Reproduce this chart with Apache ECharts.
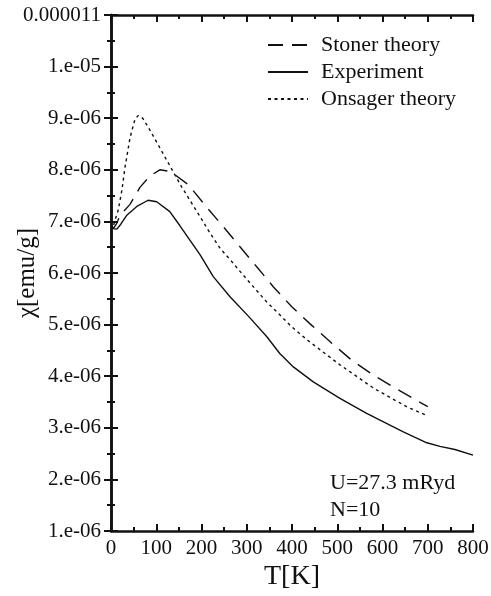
<!DOCTYPE html>
<html>
<head>
<meta charset="utf-8">
<script src="https://cdn.jsdelivr.net/npm/echarts@6/dist/echarts.min.js"></script>
<style>
html,body{margin:0;padding:0;background:#fff;}
#chart{width:491px;height:596px;}
</style>
</head>
<body>
<div id="chart"></div>
<script>
var chart = echarts.init(document.getElementById('chart'));

// data (T in K, chi in emu/g)
var expT   = [0, 5, 13, 22, 35, 57, 82, 101, 130, 152, 197, 226, 263, 305, 344, 373, 403, 447, 506, 565, 646, 698, 727, 760, 800];
var expChi = [6.88e-6, 6.86e-6, 6.85e-6, 6.95e-6, 7.12e-6, 7.29e-6, 7.41e-6, 7.38e-6, 7.19e-6, 6.92e-6, 6.35e-6, 5.93e-6, 5.54e-6, 5.15e-6, 4.77e-6, 4.44e-6, 4.18e-6, 3.89e-6, 3.57e-6, 3.28e-6, 2.92e-6, 2.71e-6, 2.64e-6, 2.58e-6, 2.47e-6];

var stonerT   = [0, 6, 12, 20, 42, 64, 86, 108, 130, 145, 171, 211, 248, 285, 322, 359, 399, 443, 488, 532, 580, 628, 679, 700];
var stonerChi = [6.92e-6, 6.87e-6, 6.95e-6, 7.12e-6, 7.33e-6, 7.66e-6, 7.88e-6, 8.00e-6, 7.97e-6, 7.88e-6, 7.71e-6, 7.28e-6, 6.90e-6, 6.51e-6, 6.12e-6, 5.73e-6, 5.35e-6, 4.99e-6, 4.64e-6, 4.31e-6, 4.02e-6, 3.77e-6, 3.51e-6, 3.41e-6];

var onsT   = [0, 4, 8, 16, 24, 31, 42, 53, 60, 70, 86, 123, 156, 197, 219, 241, 267, 292, 318, 344, 373, 399, 434, 506, 580, 653, 700];
var onsChi = [6.90e-6, 6.86e-6, 7.00e-6, 7.22e-6, 7.60e-6, 8.05e-6, 8.62e-6, 8.98e-6, 9.05e-6, 9.00e-6, 8.77e-6, 8.19e-6, 7.67e-6, 7.09e-6, 6.77e-6, 6.48e-6, 6.22e-6, 5.96e-6, 5.70e-6, 5.44e-6, 5.19e-6, 4.96e-6, 4.70e-6, 4.22e-6, 3.77e-6, 3.41e-6, 3.23e-6];

var yTickLabels = ['1.e-06', '2.e-06', '3.e-06', '4.e-06', '5.e-06', '6.e-06', '7.e-06', '8.e-06', '9.e-06', '1.e-05', '0.000011'];

function pairs(xs, ys) {
    var out = [];
    for (var i = 0; i < xs.length; i++) out.push([xs[i], ys[i]]);
    return out;
}

var serif = '"Liberation Serif", "DejaVu Serif", serif';
var frame = {lineStyle: {color: '#111', width: 2.5}};
var tickIn = {inside: true, length: 7, lineStyle: {color: '#111', width: 2}};
var minorIn = {show: true, splitNumber: 2, length: 4, lineStyle: {color: '#111', width: 2}};

var option = {
    animation: false,
    backgroundColor: '#fff',
    grid: {left: 111, right: 18, top: 15, bottom: 65, containLabel: false, outerBoundsMode: 'none'},
    legend: {
        orient: 'vertical',
        left: 262,
        top: 29,
        itemWidth: 40,
        itemHeight: 14,
        itemGap: 5,
        itemStyle: {opacity: 0},
        textStyle: {fontFamily: serif, fontSize: 22, color: '#111', lineHeight: 22, padding: [0, 0, 0, 8]},
        data: ['Stoner theory', 'Experiment', 'Onsager theory']
    },
    xAxis: [{
        type: 'value', min: 0, max: 800, interval: 100,
        name: 'T[K]', nameLocation: 'middle', nameGap: 32, nameMoveOverlap: false,
        nameTextStyle: {fontFamily: serif, fontSize: 28, color: '#111'},
        axisLine: frame, axisTick: tickIn, minorTick: minorIn,
        splitLine: {show: false},
        axisLabel: {fontFamily: serif, fontSize: 21, color: '#111', margin: 7}
    }, {
        type: 'value', min: 0, max: 800, interval: 100, position: 'top',
        axisLine: frame, axisTick: tickIn, minorTick: minorIn,
        splitLine: {show: false}, axisLabel: {show: false}
    }],
    yAxis: [{
        type: 'value', min: 1e-6, max: 1.1e-5, interval: 1e-6,
        name: 'χ[emu/g]', nameLocation: 'middle', nameGap: 71, nameMoveOverlap: false,
        nameTextStyle: {fontFamily: serif, fontSize: 25, color: '#111'},
        axisLine: frame, axisTick: tickIn, minorTick: minorIn,
        splitLine: {show: false},
        axisLabel: {
            fontFamily: serif, fontSize: 21, color: '#111', margin: 10,
            formatter: function (v) {
                return yTickLabels[Math.round(v / 1e-6) - 1];
            }
        }
    }, {
        type: 'value', min: 1e-6, max: 1.1e-5, interval: 1e-6, position: 'right',
        axisLine: frame, axisTick: tickIn, minorTick: minorIn,
        splitLine: {show: false}, axisLabel: {show: false}
    }],
    graphic: [{
        type: 'text', left: 330, top: 472,
        style: {text: 'U=27.3 mRyd', font: '22px ' + serif, fill: '#111'}
    }, {
        type: 'text', left: 330, top: 499,
        style: {text: 'N=10', font: '22px ' + serif, fill: '#111'}
    }],
    series: [{
        name: 'Stoner theory', type: 'line', symbol: 'none',
        data: pairs(stonerT, stonerChi),
        lineStyle: {color: '#111', width: 1.4, type: [15, 9]},
        itemStyle: {color: '#111'}
    }, {
        name: 'Experiment', type: 'line', symbol: 'none',
        data: pairs(expT, expChi),
        lineStyle: {color: '#111', width: 1.4, type: 'solid'},
        itemStyle: {color: '#111'}
    }, {
        name: 'Onsager theory', type: 'line', symbol: 'none',
        data: pairs(onsT, onsChi),
        lineStyle: {color: '#111', width: 1.4, type: [3, 3.5]},
        itemStyle: {color: '#111'}
    }]
};

chart.setOption(option);
</script>
</body>
</html>
